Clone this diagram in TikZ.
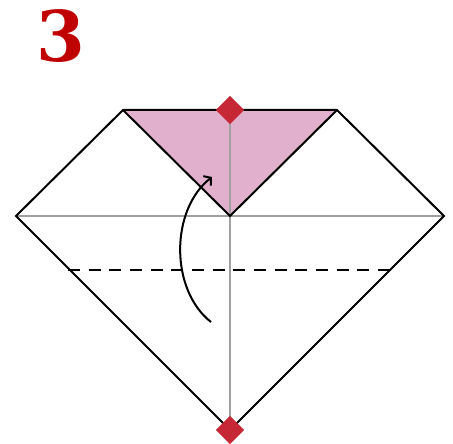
\documentclass[tikz,border=0pt]{standalone}
\usepackage{fontspec}
\newfontfamily\numfont{DejaVu Serif}
\usetikzlibrary{arrows.meta}
\definecolor{pinkfill}{HTML}{E0B0CC}
\definecolor{markred}{HTML}{C62835}
\definecolor{numred}{HTML}{C00000}
\definecolor{guide}{HTML}{A0A0A0}
\begin{document}
\begin{tikzpicture}[x=1pt,y=-1pt,
  edge/.style={draw=black,line width=2pt,line join=miter},
  guideline/.style={draw=guide,line width=1.8pt},
  fold/.style={draw=black,line width=2pt,dash pattern=on 12pt off 8.67pt},
  marker/.style={fill=markred,draw=none,shape=rectangle,minimum size=20pt,rotate=45,inner sep=0pt},
  movearrow/.style={draw=black,line width=2pt,-{Straight Barb[length=5pt,width=12pt,line width=2pt]}}]
\useasboundingbox (0,0) rectangle (453,444);
\coordinate (L) at (16,216);
\coordinate (R) at (444,216);
\coordinate (B) at (230,430);
\coordinate (TL) at (123,110);
\coordinate (TR) at (337,110);
\coordinate (T) at (230,110);
\coordinate (C) at (230,216);
\coordinate (DL) at (68,270);
\coordinate (DR) at (390,270);
\coordinate (AS) at (211,322);
\coordinate (AE) at (212,177);
% pink flap
\fill[pinkfill] (TL) -- (TR) -- (C) -- cycle;
% guides
\draw[guideline] (T) -- (B);
\draw[guideline] (L) -- (R);
% outline
\draw[edge] (L) -- (TL) -- (TR) -- (R) -- (B) -- cycle;
\draw[edge] (TL) -- (C) -- (TR);
% fold line
\draw[fold] (DL) -- (DR);
% arrow
\draw[movearrow] (AS) .. controls (170,290) and (170,210) .. (AE);
% markers
\node[marker] (mtop) at (T) {};
\node[marker] (mbot) at (B) {};
% step number
\node[text=numred,font=\numfont\bfseries\fontsize{70}{70}\selectfont,inner sep=0pt] (num) at (61,36) {3};
\end{tikzpicture}
\end{document}
